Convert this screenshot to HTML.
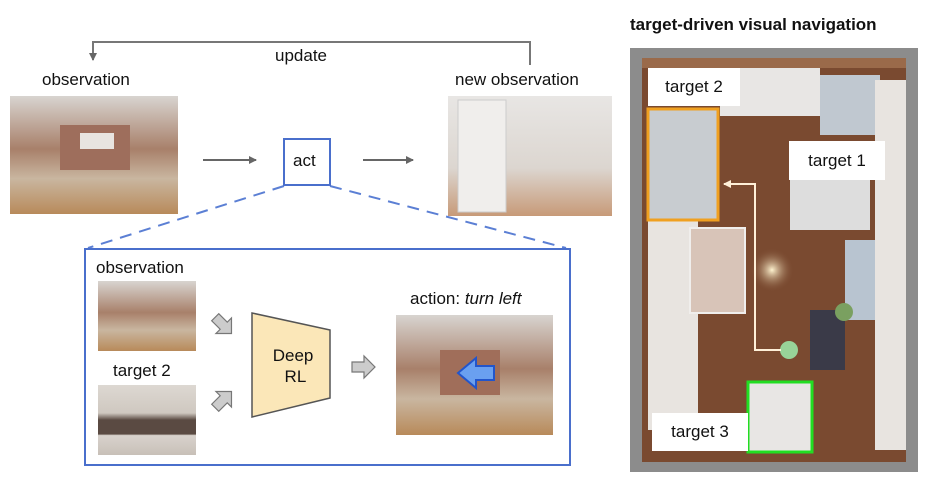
<!DOCTYPE html>
<html><head><style>
body{margin:0;width:940px;height:491px;background:#fff;position:relative;overflow:hidden;font-family:"Liberation Sans",Arial,sans-serif;color:#111}
.t{position:absolute;font-size:17px;white-space:nowrap}
.lbl{position:absolute;background:#fff;font-size:17px;padding:0;display:flex;align-items:center;justify-content:center}
</style></head><body>
<svg width="940" height="491" style="position:absolute;left:0;top:0">
<defs>
<marker id="a" markerWidth="8" markerHeight="8" refX="7" refY="4" orient="auto" markerUnits="userSpaceOnUse"><path d="M0,0 L8,4 L0,8z" fill="#666"/></marker>
<marker id="b" markerWidth="8" markerHeight="8" refX="7" refY="4" orient="auto" markerUnits="userSpaceOnUse"><path d="M0,0 L8,4 L0,8z" fill="#fff0d8"/></marker>
<linearGradient id="room" x1="0" y1="0" x2="0" y2="1"><stop offset="0" stop-color="#d8d4d0"/><stop offset="0.45" stop-color="#a8806a"/><stop offset="0.7" stop-color="#c9b6a0"/><stop offset="1" stop-color="#b88a5a"/></linearGradient>
<linearGradient id="room2" x1="0" y1="0" x2="0" y2="1"><stop offset="0" stop-color="#e8e6e4"/><stop offset="0.6" stop-color="#dcd6d0"/><stop offset="1" stop-color="#c79a78"/></linearGradient>
<linearGradient id="cab" x1="0" y1="0" x2="0" y2="1"><stop offset="0" stop-color="#ddd8d2"/><stop offset="0.4" stop-color="#cfc8c0"/><stop offset="0.5" stop-color="#5a4a42"/><stop offset="0.7" stop-color="#5a4a42"/><stop offset="0.72" stop-color="#d8d2cc"/><stop offset="1" stop-color="#c8c0b8"/></linearGradient>
<radialGradient id="lamp"><stop offset="0" stop-color="#fff4d0"/><stop offset="1" stop-color="#7a4a30" stop-opacity="0"/></radialGradient>
<path id="ba" d="M-11,-5 L1,-5 L1,-11 L12,0 L1,11 L1,5 L-11,5z" fill="#ccc" stroke="#777" stroke-width="1.2"/>
</defs>
<path d="M530,65 L530,42 L93,42 L93,60" fill="none" stroke="#777" stroke-width="2" marker-end="url(#a)"/>
<line x1="203" y1="160" x2="256" y2="160" stroke="#666" stroke-width="2" marker-end="url(#a)"/>
<line x1="363" y1="160" x2="413" y2="160" stroke="#666" stroke-width="2" marker-end="url(#a)"/>
<line x1="284" y1="186" x2="88" y2="248" stroke="#5b7fd4" stroke-width="2" stroke-dasharray="12,8"/>
<line x1="330" y1="186" x2="566" y2="248" stroke="#5b7fd4" stroke-width="2" stroke-dasharray="12,8"/>
<rect x="284" y="139" width="46" height="46" fill="#fff" stroke="#4a6fcc" stroke-width="2"/>
<rect x="85" y="249" width="485" height="216" fill="#fff" stroke="#4a6fcc" stroke-width="2"/>
<rect x="10" y="96" width="168" height="118" fill="url(#room)"/>
<rect x="60" y="125" width="70" height="45" fill="#9e6e5c"/><rect x="80" y="133" width="34" height="16" fill="#e8e4e0"/>
<rect x="448" y="96" width="164" height="120" fill="url(#room2)"/>
<rect x="458" y="100" width="48" height="112" fill="#f0eeec" stroke="#ccc"/>
<rect x="98" y="281" width="98" height="70" fill="url(#room)"/>
<rect x="98" y="385" width="98" height="70" fill="url(#cab)"/>
<rect x="396" y="315" width="157" height="120" fill="url(#room)"/>
<rect x="440" y="350" width="60" height="45" fill="#a06e5a"/>
<path d="M458,373 L476,358 L476,366 L494,366 L494,380 L476,380 L476,388z" fill="#6aa0f0" stroke="#2255cc" stroke-width="2"/>
<path d="M252,313 L330,330 L330,398 L252,417z" fill="#fbe7b8" stroke="#555" stroke-width="1.5"/>
<use href="#ba" transform="translate(223,325) rotate(45)"/>
<use href="#ba" transform="translate(223,400) rotate(-45)"/>
<use href="#ba" transform="translate(363,367)"/>
<rect x="630" y="48" width="288" height="424" fill="#8c8c8c"/>
<rect x="642" y="58" width="264" height="404" fill="#7a4a30"/>
<rect x="642" y="58" width="264" height="10" fill="#9a6a4a"/>
<rect x="720" y="68" width="100" height="48" fill="#e8e6e4"/>
<rect x="820" y="75" width="60" height="60" fill="#c0c8d0"/>
<rect x="648" y="220" width="50" height="210" fill="#e8e4e0"/>
<rect x="875" y="80" width="31" height="370" fill="#e8e4e0"/>
<rect x="690" y="228" width="55" height="85" fill="#d8c4b8" stroke="#f0eeec" stroke-width="2"/>
<rect x="790" y="180" width="80" height="50" fill="#ddd"/>
<rect x="845" y="240" width="30" height="80" fill="#b8c4d0"/>
<rect x="810" y="310" width="35" height="60" fill="#3a3a48"/>
<circle cx="772" cy="270" r="22" fill="url(#lamp)"/>
<circle cx="789" cy="350" r="9" fill="#98d498"/>
<circle cx="844" cy="312" r="9" fill="#7aa060"/>
<path d="M781,350 L755,350 L755,184 L724,184" fill="none" stroke="#fff0d8" stroke-width="2" marker-end="url(#b)"/>
<rect x="648" y="109" width="70" height="111" fill="#c8ccd0" stroke="#f0a020" stroke-width="3"/>
<rect x="748" y="382" width="64" height="70" fill="#e8e6e4" stroke="#22dd22" stroke-width="3"/>
</svg>
<div class="t" style="left:275px;top:46px">update</div>
<div class="t" style="left:42px;top:70px">observation</div>
<div class="t" style="left:455px;top:70px">new observation</div>
<div class="t" style="left:293px;top:151px">act</div>
<div class="t" style="left:96px;top:258px">observation</div>
<div class="t" style="left:113px;top:361px">target 2</div>
<div class="t" style="left:410px;top:289px">action: <i>turn left</i></div>
<div class="t" style="left:268px;top:345px;text-align:center;line-height:21px">&nbsp;Deep<br>&nbsp;&nbsp;RL</div>
<div class="t" style="left:630px;top:15px;font-weight:bold;font-size:17px">target-driven visual navigation</div>
<div class="lbl" style="left:648px;top:68px;width:92px;height:38px">target 2</div>
<div class="lbl" style="left:789px;top:141px;width:96px;height:39px">target 1</div>
<div class="lbl" style="left:652px;top:413px;width:96px;height:38px">target 3</div>
</body></html>
